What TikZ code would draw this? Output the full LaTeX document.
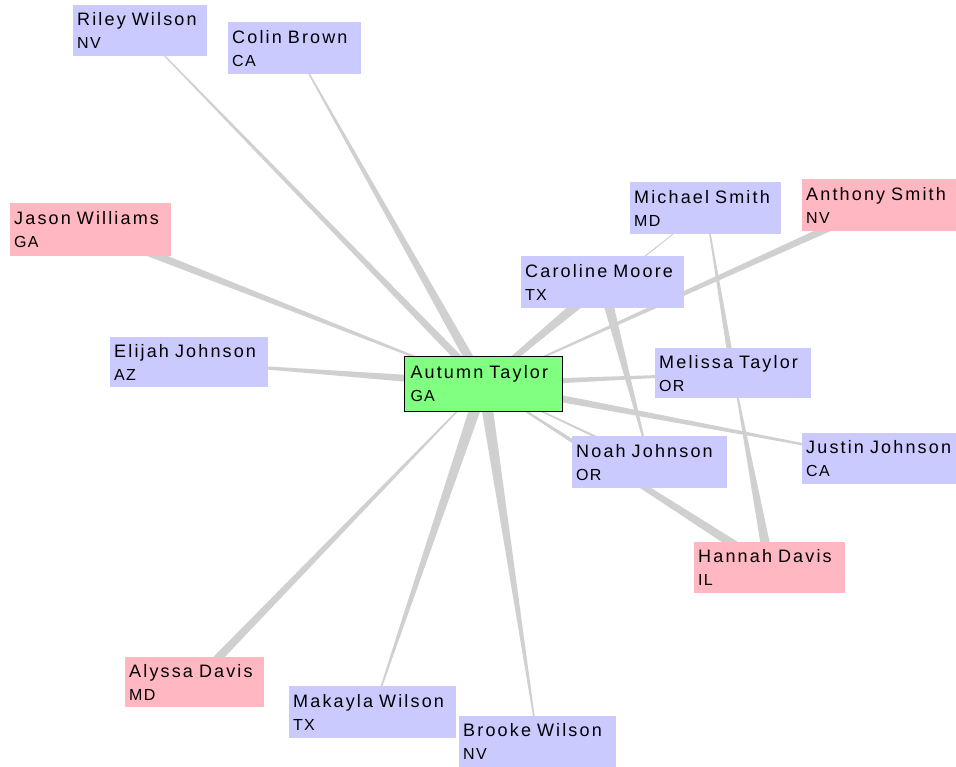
\documentclass[tikz,border=0pt]{standalone}
\usepackage{fontspec}
\usetikzlibrary{calc}
\newfontfamily\personfont[LetterSpace=12]{Liberation Sans}
\newfontfamily\statefamily[LetterSpace=8]{Liberation Sans}
\newcommand\statefont{\statefamily\fontsize{16}{23}\selectfont}
\definecolor{personblue}{RGB}{202,202,255}
\definecolor{personpink}{RGB}{255,183,193}
\definecolor{centergreen}{RGB}{128,255,128}
\definecolor{edgegray}{RGB}{208,208,208}
\pgfdeclarelayer{background}
\pgfsetlayers{background,main}
% tapered connector: from node #1 (width #3) to node #2 (width #4)
\newcommand\taperedge[4]{%
  \fill[edgegray] let \p1=(#1.center), \p2=(#2.center),
    \n1={atan2(\y2-\y1,\x2-\x1)} in
    ($(\p1)+(\n1+90:0.5*#3pt)$) -- ($(\p2)+(\n1+90:0.5*#4pt)$) --
    ($(\p2)+(\n1-90:0.5*#4pt)$) -- ($(\p1)+(\n1-90:0.5*#3pt)$) -- cycle;}
\begin{document}
\begin{tikzpicture}[x=1pt,y=-1pt,
  person/.style={rectangle, anchor=north west, inner xsep=4pt, inner ysep=0pt,
    minimum height=51pt, align=left, text=black,
    font=\personfont\fontsize{18}{23}\selectfont},
  blueperson/.style={person, fill=personblue},
  pinkperson/.style={person, fill=personpink},
  centerperson/.style={person, fill=centergreen, draw=black, line width=1pt,
    inner xsep=6pt, minimum height=55pt}]
\begin{pgfonlayer}{background}
  \fill[white] (0,0) rectangle (956,767);
\end{pgfonlayer}
\useasboundingbox (0,0) rectangle (956,767);

\node[blueperson, text width=126pt, minimum height=51pt] (riley) at (73,5) {Riley Wilson\\{\statefont NV}};
\node[blueperson, text width=125pt, minimum height=52pt] (colin) at (228,22) {Colin Brown\\{\statefont CA}};
\node[pinkperson, text width=153pt, minimum height=53pt] (jason) at (10,203) {Jason Williams\\{\statefont GA}};
\node[blueperson, text width=150pt, minimum height=50pt] (elijah) at (110,337) {Elijah Johnson\\{\statefont AZ}};
\node[centerperson, text width=146pt] (autumn) at (404,356) {Autumn Taylor\\{\statefont GA}};
\node[blueperson, text width=143pt, minimum height=52pt] (michael) at (630,182) {Michael Smith\\{\statefont MD}};
\node[pinkperson, text width=146pt, minimum height=52pt] (anthony) at (802,179) {Anthony Smith\\{\statefont NV}};
\node[blueperson, text width=155pt, minimum height=52pt] (caroline) at (521,256) {Caroline Moore\\{\statefont TX}};
\node[blueperson, text width=148pt, minimum height=50pt] (melissa) at (655,348) {Melissa Taylor\\{\statefont OR}};
\node[blueperson, text width=147pt, minimum height=52pt] (noah) at (572,436) {Noah Johnson\\{\statefont OR}};
\node[blueperson, text width=146pt, minimum height=51pt] (justin) at (802,433) {Justin Johnson\\{\statefont CA}};
\node[pinkperson, text width=143pt, minimum height=51pt] (hannah) at (694,542) {Hannah Davis\\{\statefont IL}};
\node[pinkperson, text width=131pt, minimum height=50pt] (alyssa) at (125,657) {Alyssa Davis\\{\statefont MD}};
\node[blueperson, text width=159pt, minimum height=52pt] (makayla) at (289,686) {Makayla Wilson\\{\statefont TX}};
\node[blueperson, text width=149pt, minimum height=51pt] (brooke) at (459,716) {Brooke Wilson\\{\statefont NV}};

\begin{pgfonlayer}{background}
  \taperedge{riley}{autumn}{0.8}{8}
  \taperedge{colin}{autumn}{0.8}{10}
  \taperedge{autumn}{jason}{0.8}{9}
  \taperedge{elijah}{autumn}{1}{9}
  \taperedge{autumn}{alyssa}{0.8}{9}
  \taperedge{makayla}{autumn}{0.8}{12}
  \taperedge{brooke}{autumn}{0.8}{12}
  \taperedge{autumn}{anthony}{0.8}{8}
  \taperedge{michael}{autumn}{0.8}{2}
  \taperedge{autumn}{caroline}{5}{9}
  \taperedge{noah}{caroline}{0.8}{11}
  \taperedge{michael}{melissa}{0.8}{6}
  \taperedge{melissa}{hannah}{0.8}{10.5}
  \taperedge{autumn}{hannah}{0.8}{10}
  \taperedge{autumn}{noah}{0.8}{3}
  \taperedge{melissa}{autumn}{1}{7}
  \taperedge{justin}{autumn}{0.8}{8.5}
\end{pgfonlayer}
\end{tikzpicture}
\end{document}
